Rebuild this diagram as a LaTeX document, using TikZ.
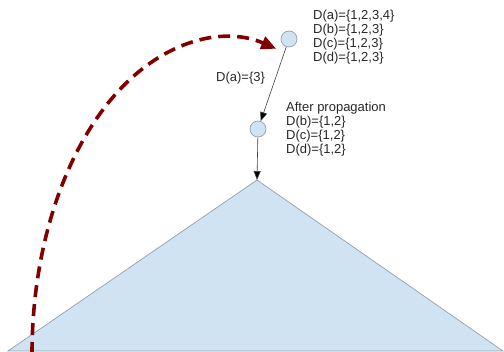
\documentclass[tikz,border=0pt]{standalone}
\usepackage{fontspec}
\setmainfont{Liberation Sans}
\usetikzlibrary{arrows.meta}
\definecolor{fillblue}{RGB}{207,227,242}
\definecolor{edgegray}{RGB}{150,160,170}
\definecolor{darkred}{RGB}{128,0,0}
\definecolor{txt}{RGB}{40,40,40}
\tikzset{
  vtx/.style={circle, draw=edgegray, fill=fillblue, line width=0.7pt, minimum size=16pt, inner sep=0pt},
  lbl/.style={font=\fontsize{13pt}{14pt}\selectfont, text=txt, inner sep=0pt, align=left},
  conn/.style={draw=black!75, line width=0.6pt, -{Triangle[length=9pt,width=7pt,fill=black]}},
  jump/.style={draw=darkred, line width=3.6pt, dash pattern=on 12pt off 7pt, -{Triangle[length=15pt,width=13pt,fill=darkred]}},
  tri/.style={draw=edgegray, fill=fillblue, line width=0.7pt}
}
\begin{document}
\begin{tikzpicture}[x=1pt,y=-1pt]
\useasboundingbox (0,0) rectangle (504,352);
% triangle
\coordinate (apex) at (257,180);
\coordinate (bl) at (8,351);
\coordinate (br) at (503,351);
\draw[tri] (bl) -- (apex) -- (br) -- cycle;
% nodes
\node[vtx] (a) at (289,39) {};
\node[vtx] (b) at (258,129) {};
% labels (anchored at the baseline of the last line)
\node[lbl, anchor=base west] (la) at (313,62) {D(a)=\{1,2,3,4\}\\D(b)=\{1,2,3\}\\D(c)=\{1,2,3\}\\D(d)=\{1,2,3\}};
\node[lbl, anchor=base west] (lb) at (286,153.5) {After propagation\\D(b)=\{1,2\}\\D(c)=\{1,2\}\\D(d)=\{1,2\}};
\node[lbl, anchor=base west] (le) at (216,82) {D(a)=\{3\}};
% connectors
\draw[conn] (a) -- (b);
\draw[conn] (b) -- (apex);
% dashed jump
\coordinate (s) at (32,354);
\draw[jump] (s) arc[start angle=180, end angle=75, x radius=194pt, y radius=316pt];
\end{tikzpicture}
\end{document}
